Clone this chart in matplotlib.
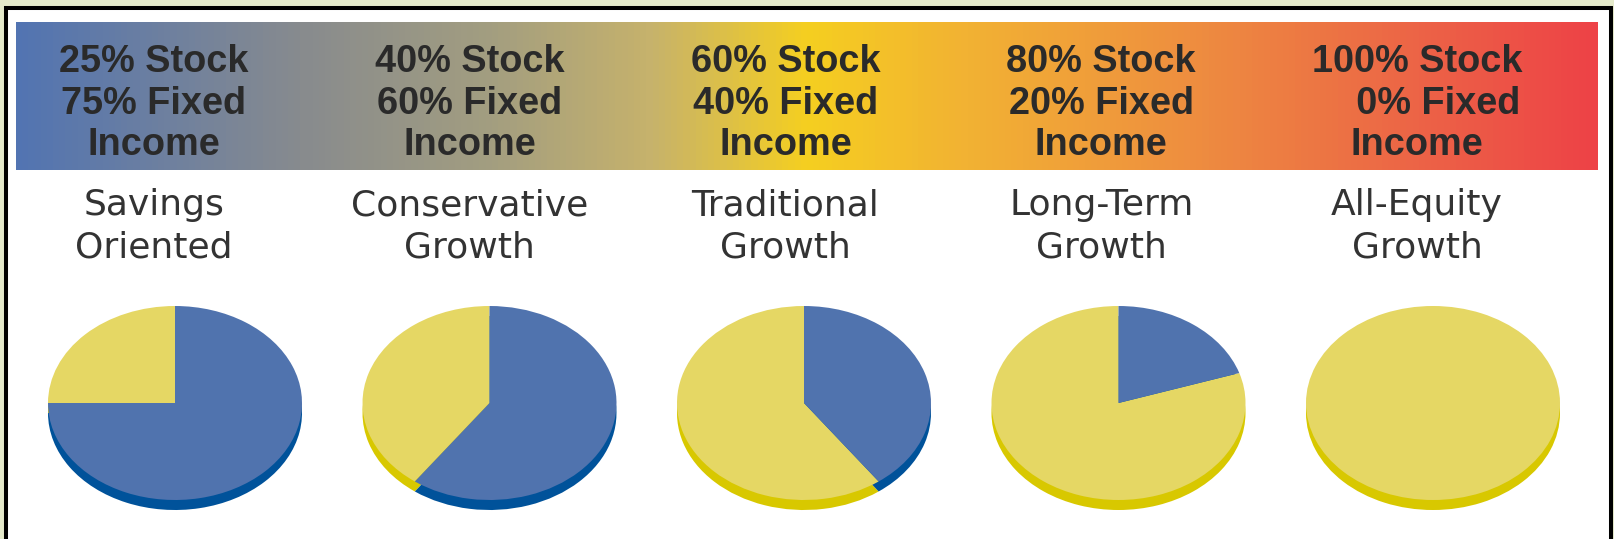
import matplotlib
matplotlib.use("Agg")
import matplotlib.pyplot as plt
import numpy as np
from matplotlib.colors import LinearSegmentedColormap
from matplotlib.patches import Rectangle

# Portfolio mixes
stock_pct = [25, 40, 60, 80, 100]
fixed_pct = [75, 60, 40, 20, 0]
names = ["Savings\nOriented", "Conservative\nGrowth", "Traditional\nGrowth",
         "Long-Term\nGrowth", "All-Equity\nGrowth"]

W, H = 1615, 539
fig = plt.figure(figsize=(W / 100, H / 100), dpi=100)
fig.patch.set_facecolor("#e5eacb")

# full-figure overlay in pixel units (y down)
ax = fig.add_axes([0, 0, 1, 1])
ax.set_xlim(0, W)
ax.set_ylim(H, 0)
ax.axis("off")

# white panel with black frame
ax.add_patch(Rectangle((6, 7.5), 1605, 540, facecolor="white",
                       edgecolor="black", linewidth=2.9, zorder=0))

# gradient header bar
stops = [(0.00, "#5274b2"), (0.18, "#888b8e"), (0.30, "#a39e80"),
         (0.40, "#c6b26c"), (0.50, "#f5cf20"), (0.60, "#f2b233"),
         (0.75, "#ee8c40"), (0.88, "#ec6646"), (1.00, "#ee4247")]
cmap = LinearSegmentedColormap.from_list("risk", stops)
grad = np.linspace(0, 1, 512)[None, :]
ax.imshow(grad, cmap=cmap, aspect="auto", extent=(16, 1598, 170, 22), zorder=1)
ax.set_xlim(0, W)
ax.set_ylim(H, 0)

col_x = [154 + 315.75 * i for i in range(5)]
head_font = dict(family="Liberation Sans", weight="bold", size=27.3,
                 color="#2a2a2a", ha="center", va="baseline", zorder=2)
label_font = dict(family="DejaVu Sans", size=26, color="#333333",
                  ha="center", va="baseline")
for i, x in enumerate(col_x):
    line2 = f"{fixed_pct[i]}% Fixed"
    if len(str(fixed_pct[i])) < len(str(stock_pct[i])):
        line2 = "\u2007" * (len(str(stock_pct[i])) - len(str(fixed_pct[i]))) + line2
    ax.text(x, 72, f"{stock_pct[i]}% Stock", **head_font)
    ax.text(x, 113.5, line2, **head_font)
    ax.text(x, 155, "Income", **head_font)
    l1, l2 = names[i].split("\n")
    ax.text(x, 215, l1, **label_font)
    ax.text(x, 257, l2, **label_font)

# tilted pies: darker copy shifted down for the rim, then the top face
top_colors = ["#e5d764", "#5073ae"]
rim_colors = ["#d8c800", "#00529a"]
rx, ry, depth = 127, 97, 10
d = depth / ry
pie_x = [175 + 314.5 * i for i in range(5)]
for i, cx in enumerate(pie_x):
    top = 306
    h = 2 * ry + depth
    pax = fig.add_axes([(cx - rx) / W, 1 - (top + h) / H, 2 * rx / W, h / H])
    vals = [stock_pct[i], fixed_pct[i]]
    pax.pie(vals, colors=rim_colors, startangle=90, counterclock=True,
            center=(0, -d), radius=1, wedgeprops=dict(linewidth=0))
    pax.pie(vals, colors=top_colors, startangle=90, counterclock=True,
            center=(0, 0), radius=1, wedgeprops=dict(linewidth=0))
    pax.set_aspect("auto")
    pax.set_xlim(-1, 1)
    pax.set_ylim(-1 - d, 1)
    pax.axis("off")

fig.savefig("out.png", dpi=100, facecolor=fig.get_facecolor())
